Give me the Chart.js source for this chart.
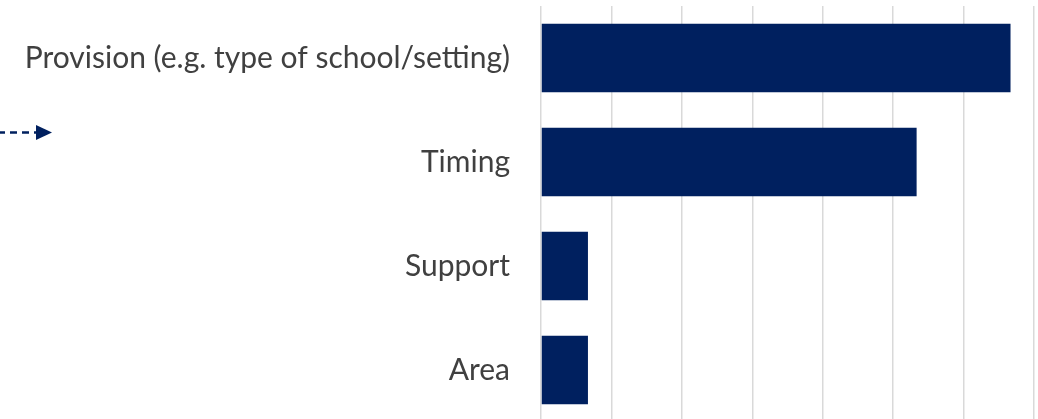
<!DOCTYPE html>
<html lang="en">
<head>
    <meta charset="UTF-8">
    <title>Provision, timing, support, area</title>
    <script src="https://cdn.jsdelivr.net/npm/chart.js"></script>
    <style>
        html, body {
            margin: 0;
            padding: 0;
            background: #ffffff;
            overflow: hidden;
        }
        .wrap {
            position: relative;
            width: 1038px;
            height: 419px;
            overflow: hidden;
        }
        .chart-box {
            position: absolute;
            left: 0;
            top: 0;
            width: 1038px;
            height: 430px;
        }
        .arrow {
            position: absolute;
            left: 0;
            top: 124px;
        }
    </style>
</head>
<body>
    <div class="wrap">
        <div class="chart-box">
            <canvas id="barChart"></canvas>
        </div>
        <svg class="arrow" width="60" height="17" viewBox="0 0 60 17">
            <line x1="0" y1="8.5" x2="38" y2="8.5" stroke="#00205f" stroke-width="2.5" stroke-dasharray="7 5" stroke-dashoffset="2"/>
            <polygon points="36,1 52,8.5 36,16" fill="#00205f"/>
        </svg>
    </div>

    <script>
        const categories = ['Provision (e.g. type of school/setting)', 'Timing', 'Support', 'Area'];
        const counts = [20, 16, 2, 2];
        const axisMax = 21;
        const axisStep = 3;

        const ctx = document.getElementById('barChart').getContext('2d');

        new Chart(ctx, {
            type: 'bar',
            data: {
                labels: categories,
                datasets: [{
                    data: counts,
                    backgroundColor: '#00205f',
                    borderWidth: 0,
                    categoryPercentage: 0.66,
                    barPercentage: 1.0
                }]
            },
            options: {
                indexAxis: 'y',
                responsive: true,
                maintainAspectRatio: false,
                animation: false,
                layout: {
                    padding: { top: 6, right: 4, bottom: 8, left: 0 }
                },
                plugins: {
                    legend: { display: false },
                    tooltip: { enabled: false }
                },
                scales: {
                    x: {
                        min: 0,
                        max: axisMax,
                        ticks: { stepSize: axisStep, display: false },
                        grid: { color: '#d9d9d9', lineWidth: 1.5, drawTicks: false },
                        border: { display: false }
                    },
                    y: {
                        ticks: {
                            color: '#404040',
                            padding: 31,
                            font: { family: 'Lato', size: 30 }
                        },
                        grid: { display: false, drawTicks: false },
                        border: { display: false },
                        // long category names need more than half the width
                        afterFit: (scale) => {
                            scale.width = 541;
                            scale.paddingTop = 0;
                            scale.paddingBottom = 0;
                        }
                    }
                }
            }
        });
    </script>
</body>
</html>
